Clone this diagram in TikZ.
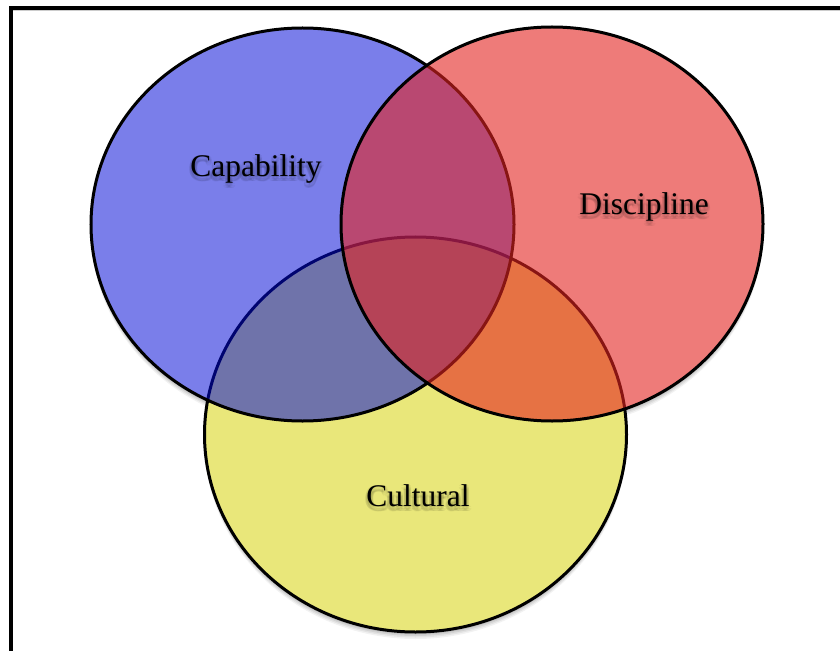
\documentclass[tikz,border=0pt]{standalone}
\usepackage{fontspec}
\setmainfont{Liberation Serif}
\usetikzlibrary{calc}
\definecolor{capblue}{RGB}{0,9,215}
\definecolor{disred}{RGB}{228,36,33}
\definecolor{culyellow}{RGB}{213,209,0}
\tikzset{
  venn/.style={line width=3bp, draw=black},
  vennfill/.style={fill opacity=0.52},
  capr/.style={x radius=211.5bp, y radius=196.5bp},
  disr/.style={x radius=211bp, y radius=197bp},
  culr/.style={x radius=211bp, y radius=197.5bp},
  lbl/.style={font=\fontsize{31.6}{38}\selectfont, inner sep=0pt, anchor=base},
  halo/.style={lbl, text=black, text opacity=0.045},
}
\begin{document}
\begin{tikzpicture}[x=1bp,y=-1bp]
  \useasboundingbox (0,0) rectangle (840,651);
  \fill[white] (0,0) rectangle (840,651);

  % centres of the three sets
  \coordinate (ccap) at (302.5,224.5);
  \coordinate (cdis) at (552,224);
  \coordinate (ccul) at (415.5,434.5);

  % outer frame (open to the right and bottom)
  \draw[gray!40, line width=1bp] (13,10.8) -- (840,10.8);
  \draw[line width=4bp] (11,651) -- (11,8) -- (840,8);

  % soft drop shadows of the circles
  \foreach \d/\o in {7/0.05,5.5/0.06,4/0.07,2.5/0.08}{
    \fill[black, opacity=\o] ($(ccul)+(0,\d)$) ellipse [culr];
    \fill[black, opacity=\o] ($(cdis)+(0,\d)$) ellipse [disr];
    \fill[black, opacity=\o] ($(ccap)+(0,\d)$) ellipse [capr];
  }
  % opaque white base so the shadows only show outside
  \fill[white] (ccul) ellipse [culr];
  \fill[white] (cdis) ellipse [disr];
  \fill[white] (ccap) ellipse [capr];

  % the three sets, stacked yellow, blue, red
  \path[venn, vennfill, fill=culyellow] (ccul) ellipse [culr];
  \path[venn, vennfill, fill=capblue] (ccap) ellipse [capr];
  \path[venn, fill opacity=0.6, fill=disred] (cdis) ellipse [disr];

  % soft shadows under the labels
  \foreach \a in {0,30,...,330}{
    \node[halo] at ($(256,179)+(\a:2.5)$) {Capability};
    \node[halo] at ($(644,217)+(\a:2.5)$) {Discipline};
    \node[halo] at ($(418,509)+(\a:2.5)$) {Cultural};
  }
  % labels
  \node[lbl] (capability) at (256,176) {Capability};
  \node[lbl] (discipline) at (644,214) {Discipline};
  \node[lbl] (cultural) at (418,506) {Cultural};
\end{tikzpicture}
\end{document}
